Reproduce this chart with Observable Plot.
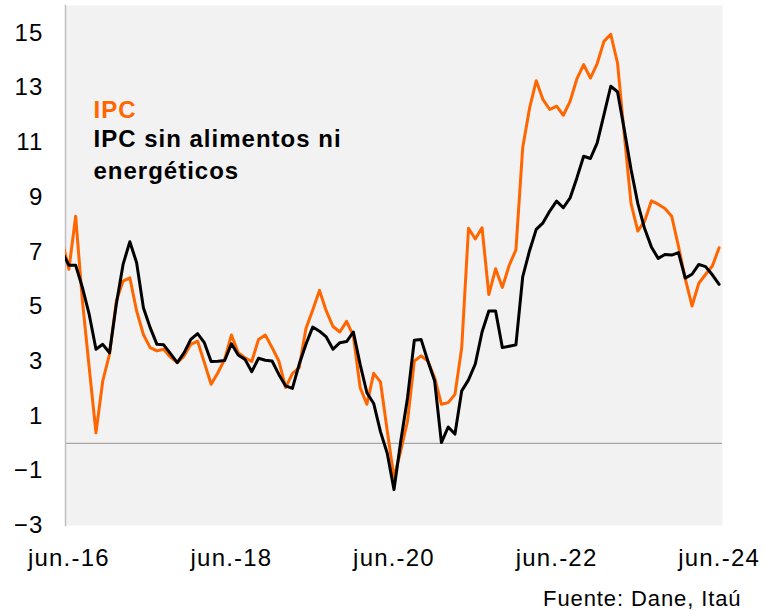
<!DOCTYPE html>
<html><head><meta charset="utf-8">
<script src="https://cdn.jsdelivr.net/npm/d3@7"></script>
<script src="https://cdn.jsdelivr.net/npm/@observablehq/plot@0.6"></script>
<style>
body{margin:0;background:#fff;font-family:"Liberation Sans",Arial,sans-serif}
#chart svg{display:block}
</style>
</head><body><div id="chart"></div><script>
// Month index 0 = jun.-16 ... 96 = jun.-24; the first value (index -1, may.-16) is clipped at the left edge
const firstIndex = -1;
const ipc = [7.4, 6.36, 8.3, 5.2, 2.77, 0.39, 2.28, 3.26, 5.2, 5.93,
  6.05, 4.84, 3.98, 3.5, 3.38, 3.44, 3.15, 2.95, 3.19, 3.62,
  3.74, 2.95, 2.16, 2.58, 3.07, 3.96, 3.31, 3.13, 2.99, 3.8,
  3.96, 3.5, 3.01, 2.04, 2.55, 2.77, 4.2, 4.87, 5.59, 4.84,
  4.27, 4.07, 4.46, 3.93, 2.04, 1.43, 2.56, 2.25, 0.46, -1.25,
  -0.27, 0.82, 3.01, 3.2, 3.01, 2.4, 1.43, 1.49, 1.79, 3.5,
  7.86, 7.47, 7.88, 5.44, 6.38, 5.7, 6.5, 7.07, 10.8, 12.23,
  13.25, 12.56, 12.2, 12.32, 11.99, 12.5, 13.32, 13.84, 13.35, 13.88,
  14.69, 14.95, 13.9, 11.28, 8.76, 7.76, 8.12, 8.86, 8.74, 8.58,
  8.3, 7.2, 6.02, 5.02, 5.85, 6.17, 6.48, 7.15];
const core = [7.0, 6.51, 6.51, 5.69, 4.71, 3.44, 3.62, 3.31, 5.08, 6.54,
  7.37, 6.6, 4.96, 4.23, 3.62, 3.6, 3.28, 2.95, 3.31, 3.8,
  4.01, 3.68, 2.99, 3.0, 3.03, 3.64, 3.23, 3.07, 2.62, 3.11,
  3.04, 3.01, 2.52, 2.1, 2.01, 2.89, 3.62, 4.25, 4.1, 3.89,
  3.44, 3.68, 3.72, 4.07, 2.89, 1.85, 1.46, 0.43, -0.36, -1.69,
  0.09, 1.67, 3.77, 3.8, 3.01, 2.28, 0.03, 0.6, 0.34, 1.92,
  2.32, 2.9, 4.07, 4.84, 4.84, 3.5, 3.55, 3.6, 6.08, 7.03,
  7.82, 8.06, 8.49, 8.85, 8.61, 8.97, 9.7, 10.49, 10.41, 10.98,
  12.01, 13.05, 12.85, 11.47, 10.01, 8.76, 7.85, 7.18, 6.76, 6.9,
  6.88, 6.97, 6.04, 6.18, 6.54, 6.46, 6.16, 5.81];
const xTickIndex = [0, 24, 48, 72, 96];
const xTickLabels = ["jun.-16", "jun.-18", "jun.-20", "jun.-22", "jun.-24"];
const yTicks = [-3, -1, 1, 3, 5, 7, 9, 11, 13, 15];
const seriesNames = ["IPC", "IPC sin alimentos ni\nenergéticos"];
const source = "Fuente: Dane, Itaú";

const rowsIpc = ipc.map((v, k) => ({i: k + firstIndex, value: v}));
const rowsCore = core.map((v, k) => ({i: k + firstIndex, value: v}));
const labelOf = new Map(xTickIndex.map((t, k) => [t, xTickLabels[k]]));

const FONT = "Liberation Sans, Arial, sans-serif";
const chart = Plot.plot({
  width: 764,
  height: 611,
  marginLeft: 65,
  marginRight: 42,
  marginTop: 5,
  marginBottom: 86,
  style: {fontFamily: FONT, background: "#fff", color: "#000", overflow: "visible"},
  x: {type: "linear", domain: [-0.5, 96.5]},
  y: {domain: [-3, 16]},
  marks: [
    Plot.frame({fill: "#f2f2f2", stroke: null}),
    Plot.ruleY([0], {stroke: "#a6a6a6", strokeWidth: 1.2}),
    Plot.frame({anchor: "left", stroke: "#bfbfbf", strokeWidth: 1.5}),
    Plot.axisY({ticks: yTicks, tickSize: 0, tickPadding: 22, fontSize: 24, label: null}),
    Plot.axisX({ticks: xTickIndex, tickFormat: d => labelOf.get(d), tickSize: 0, tickPadding: 23, fontSize: 24, label: null}),
    Plot.line(rowsIpc, {x: "i", y: "value", stroke: "#ff6600", strokeWidth: 3, clip: true}),
    Plot.line(rowsCore, {x: "i", y: "value", stroke: "#000000", strokeWidth: 3, clip: true}),
    Plot.text([seriesNames[0]], {frameAnchor: "top-left", dx: 28, dy: 112, lineAnchor: "bottom", textAnchor: "start", fill: "#ff6600", fontWeight: "bold", fontSize: 24, className: "legend"}),
    Plot.text([seriesNames[1]], {frameAnchor: "top-left", dx: 28, dy: 173, lineAnchor: "bottom", textAnchor: "start", fill: "#000", fontWeight: "bold", fontSize: 24, lineHeight: 1.3, className: "legend"}),
    Plot.text([source], {frameAnchor: "bottom-right", dx: 19, dy: 80, lineAnchor: "bottom", textAnchor: "end", fill: "#000", fontSize: 22, className: "source"})
  ]
});
const s = d3.select(chart);
s.selectAll('g[aria-label="y-axis tick label"] text, g[aria-label="x-axis tick label"] text').style("letter-spacing", "1.2px");
s.selectAll('g.legend text, text.legend').style("letter-spacing", "1px");
s.selectAll('g.source text, text.source').style("letter-spacing", "0.9px");
document.getElementById("chart").appendChild(chart);
</script></body></html>
